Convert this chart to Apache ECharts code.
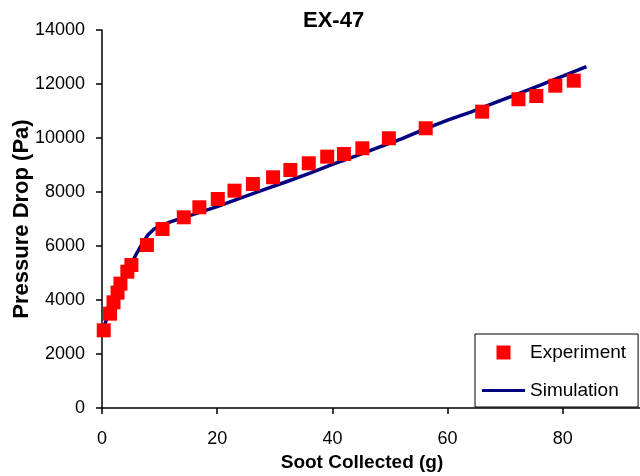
<!DOCTYPE html>
<html>
<head>
<meta charset="utf-8">
<script src="https://cdn.jsdelivr.net/npm/echarts@6/dist/echarts.min.js"></script>
<style>
  html, body { margin: 0; padding: 0; background: #ffffff; }
  #chart { width: 640px; height: 476px; }
</style>
</head>
<body>
<div id="chart"></div>
<script>
// Measured pressure drop vs. collected soot
const expSoot = [0.3, 1.4, 2.0, 2.7, 3.2, 4.4, 5.1, 7.8, 10.5, 14.2, 16.9, 20.1, 23.0, 26.2, 29.7,
                 32.7, 35.9, 39.1, 42.0, 45.2, 49.8, 56.2, 66.0, 72.3, 75.4, 78.7, 81.9];
const expDp = [2877, 3494, 3914, 4272, 4605, 5049, 5297, 6038, 6630, 7063, 7434, 7741, 8049, 8297, 8545,
               8815, 9064, 9309, 9408, 9619, 9990, 10360, 10975, 11434, 11556, 11937, 12124];

// Model prediction
const simSoot = [0.3, 1, 2, 3, 4, 5, 6, 7, 8, 9, 10, 12, 14, 16, 18, 20, 24, 28, 32, 36, 40,
                 44, 48, 52, 56, 60, 64, 68, 72, 76, 80, 84.1];
const simDp = [2950, 3450, 3950, 4450, 4900, 5300, 5720, 6100, 6420, 6620, 6740, 6900, 7040, 7180, 7320,
               7460, 7770, 8080, 8380, 8690, 9020, 9330, 9650, 9970, 10330, 10660, 10960, 11290,
               11620, 11950, 12290, 12643];

const xTicks = [0, 20, 40, 60, 80];
const yTicks = [0, 2000, 4000, 6000, 8000, 10000, 12000, 14000];

const FONT = 'Arial, "Liberation Sans", sans-serif';

const chart = echarts.init(document.getElementById('chart'), null, { renderer: 'canvas' });

const expData = expSoot.map((x, i) => [x, expDp[i]]);
const simData = simSoot.map((x, i) => [x, simDp[i]]);

chart.setOption({
  backgroundColor: '#ffffff',
  animation: false,
  title: {
    text: 'EX-47',
    left: 298,
    top: 5,
    textStyle: { fontFamily: FONT, fontSize: 22, fontWeight: 'bold', color: '#000' }
  },
  grid: { left: 102, right: 0, top: 30, bottom: 68, containLabel: false, outerBoundsMode: 'none' },
  legend: {
    orient: 'vertical',
    left: 475,
    top: 334,
    padding: [9, 12, 7, 7],
    itemGap: 19,
    itemWidth: 43,
    itemHeight: 14,
    borderColor: '#000',
    borderWidth: 1,
    backgroundColor: '#fff',
    symbolKeepAspect: true,
    textStyle: { fontFamily: FONT, fontSize: 19, color: '#000' },
    data: [
      { name: 'Experiment', icon: 'path://M0,0 L10,0 L10,10 L0,10 Z' },
      { name: 'Simulation', icon: 'path://M0,0 L43,0 L43,3 L0,3 Z', itemStyle: { color: '#000080' } }
    ]
  },
  xAxis: {
    type: 'value',
    min: 0,
    max: 93.4,
    interval: 20,
    name: 'Soot Collected (g)',
    nameLocation: 'middle',
    nameGap: 45,
    nameTextStyle: { fontFamily: FONT, fontSize: 19, fontWeight: 'bold', color: '#000', padding: [0, 18, 0, 0] },
    axisLine: { show: true, onZero: false, lineStyle: { color: '#000', width: 1.5 } },
    axisTick: { show: true, inside: false, length: 6, lineStyle: { color: '#000', width: 1.5 } },
    axisLabel: {
      margin: 22,
      showMaxLabel: false,
      fontFamily: FONT, fontSize: 18, color: '#000',
      formatter: v => (xTicks.indexOf(v) >= 0 ? String(v) : '')
    },
    splitLine: { show: false }
  },
  yAxis: {
    type: 'value',
    min: 0,
    max: 14000,
    interval: 2000,
    name: 'Pressure Drop (Pa)',
    nameLocation: 'middle',
    nameGap: 69,
    nameMoveOverlap: false,
    nameTextStyle: { fontFamily: FONT, fontSize: 22, fontWeight: 'bold', color: '#000' },
    axisLine: { show: true, lineStyle: { color: '#000', width: 1.5 } },
    axisTick: { show: true, inside: false, length: 6, lineStyle: { color: '#000', width: 1.5 } },
    axisLabel: {
      margin: 17,
      fontFamily: FONT, fontSize: 18, color: '#000',
      formatter: v => (yTicks.indexOf(v) >= 0 ? String(v) : '')
    },
    splitLine: { show: false }
  },
  series: [
    {
      name: 'Simulation',
      type: 'line',
      data: simData,
      showSymbol: false,
      symbol: 'none',
      smooth: false,
      z: 2,
      lineStyle: { color: '#000080', width: 3.5 },
      itemStyle: { color: '#000080' }
    },
    {
      name: 'Experiment',
      type: 'scatter',
      data: expData,
      symbol: 'rect',
      symbolSize: 14,
      z: 3,
      itemStyle: { color: '#ff0000', opacity: 1 }
    }
  ]
});
</script>
</body>
</html>
